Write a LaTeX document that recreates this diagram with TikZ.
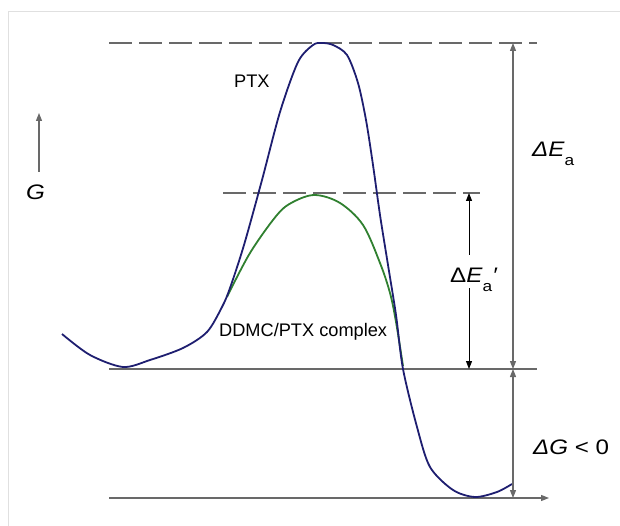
\documentclass[tikz,border=0pt]{standalone}
\usepackage{fontspec}
\setmainfont{Liberation Sans}
\newfontfamily\widesans{Liberation Sans}[FakeStretch=1.15]
\usetikzlibrary{arrows.meta,positioning}
\definecolor{pathblue}{RGB}{30,30,112}
\definecolor{pathgreen}{RGB}{48,128,48}
\definecolor{levelgray}{RGB}{105,105,105}
\definecolor{framegray}{RGB}{224,224,224}
\newcommand{\subA}{\raisebox{-0.42em}{\fontsize{15}{15}\selectfont a}}

\begin{document}
\begin{tikzpicture}[x=1pt,y=-1pt,
  level/.style={levelgray, line width=1.2pt},
  dashlevel/.style={level, dash pattern=on 23pt off 7pt},
  tip/.style={-{Triangle[length=8pt,width=6pt]}},
  energycurve/.style={line width=1.8pt, line join=round},
  smalllbl/.style={font=\fontsize{18.2}{20}\selectfont, inner sep=0pt},
  biglbl/.style={font=\widesans\fontsize{21}{24}\selectfont, inner sep=0pt}]
\useasboundingbox (0,0) rectangle (620,526);
\draw[framegray] (8,526) -- (8,11) -- (620,11);

% energy levels
\coordinate (hiL) at (109,43);  \coordinate (hiR) at (537,43);
\coordinate (loL) at (223,193); \coordinate (loR) at (480,193);
\coordinate (reL) at (109,369); \coordinate (reR) at (537,369);
\coordinate (prL) at (109,498); \coordinate (prR) at (549,498);
\draw[dashlevel] (hiL) -- (hiR);
\draw[dashlevel] (loL) -- (loR);
\draw[level] (reL) -- (reR);
\draw[level, tip] (prL) -- (prR);

% reaction paths
\draw[pathgreen, energycurve] plot[smooth, tension=0.55] coordinates {
  (227,297) (250,253) (277,215) (293,202) (315,195) (340,203)
  (363,225) (380,263) (390,293) (396,322) (403,366)};
\draw[pathblue, energycurve] plot[smooth, tension=0.5] coordinates {
  (62,334) (90,355) (123,367) (150,360) (183,348) (207,332) (222,307)
  (230,288) (244,245) (262,180) (280,112) (298,62) (313,45)
  (322,43) (333,45) (347,55) (358,83) (366,120) (373,165)
  (380,215) (388,265) (396,315) (403,369) (417,427) (430,467) (453,490)
  (475,497) (497,492) (512,484)};

% labels
\node[smalllbl, anchor=base west] (ptx) at (234,88) {PTX};
\node[smalllbl, anchor=base west] (cplx) at (219,336) {DDMC/PTX complex};
\node[biglbl, anchor=base west] (glbl) at (26,200) {\textit{G}};
\node[biglbl, anchor=base west] (ea) at (532,157) {\textit{ΔE}\subA};
\node[biglbl, anchor=base west] (eap) at (450,283) {Δ\textit{E}\subA\textit{\char"2032}};
\node[biglbl, anchor=base west] (dg) at (533,454) {\textit{ΔG} < 0};

% arrows
\coordinate (gB) at (39,172);   \coordinate (gT) at (39,113);
\coordinate (eaT) at (513,43);  \coordinate (eaB) at (513,369);
\coordinate (dgB) at (513,498);
\coordinate (eapT) at (469,193); \coordinate (eapB) at (469,369);
\coordinate (eapU) at (469,255); \coordinate (eapD) at (469,288);
\draw[level, tip] (gB) -- (gT);
\draw[level, tip] (eaB) ++(0,-3) -- (eaT);
\draw[level, tip] (eaT) ++(0,3) -- (eaB);
\draw[level, tip] (eaB) ++(0,3) -- (dgB);
\draw[level, tip] (dgB) ++(0,-3) -- (eaB);
\draw[black, line width=1pt, tip] (eapU) -- (eapT);
\draw[black, line width=1pt, tip] (eapD) -- (eapB);
\end{tikzpicture}
\end{document}
